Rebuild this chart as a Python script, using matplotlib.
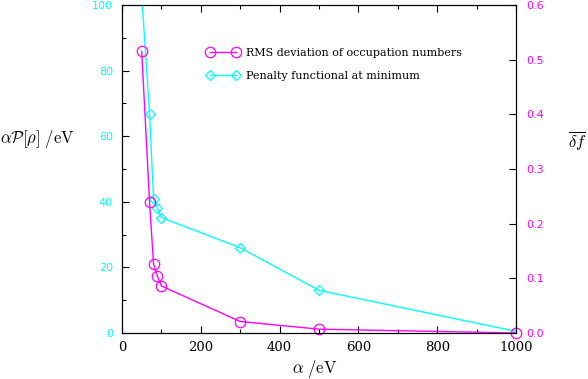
import numpy as np
import matplotlib
matplotlib.use('Agg')
import matplotlib.pyplot as plt
from matplotlib.ticker import MultipleLocator, FormatStrFormatter

# alpha values (eV)
alpha = [50, 70, 80, 90, 100, 300, 500, 1000]
# RMS deviation of occupation numbers (right axis)
rms_dev = [0.515, 0.239, 0.126, 0.104, 0.086, 0.021, 0.007, 0.0]
# penalty functional at minimum, alpha*P[rho] in eV (left axis)
penalty = [103.0, 66.7, 41.0, 38.0, 35.2, 26.0, 13.0, 0.5]

plt.rcParams['mathtext.fontset'] = 'cm'
plt.rcParams['axes.linewidth'] = 0.8

CYAN = '#00ffff'
MAGENTA = '#ff00ff'

def main():
    fig = plt.figure(figsize=(5.88, 3.79), dpi=100)
    ax = fig.add_axes([0.2075, 0.1214, 0.6701, 0.8654])
    ax2 = ax.twinx()

    l2, = ax.plot(alpha, penalty, color=CYAN, lw=1, marker='D', ms=5.5,
                  mfc='none', mec=CYAN, mew=0.9, clip_on=True,
                  label='Penalty functional at minimum')
    l1, = ax2.plot(alpha, rms_dev, color=MAGENTA, lw=1, marker='o', ms=7.5,
                   mfc='none', mec=MAGENTA, mew=0.9, clip_on=False,
                   label='RMS deviation of occupation numbers')

    ax.set_xlim(0, 1000)
    ax.set_ylim(0, 100)
    ax2.set_ylim(0, 0.6)

    ax.xaxis.set_major_locator(MultipleLocator(200))
    ax.xaxis.set_minor_locator(MultipleLocator(100))
    ax.yaxis.set_major_locator(MultipleLocator(20))
    ax.yaxis.set_minor_locator(MultipleLocator(10))
    ax2.yaxis.set_major_locator(MultipleLocator(0.1))
    ax2.yaxis.set_major_formatter(FormatStrFormatter('%.1f'))

    ax.tick_params(axis='x', which='both', direction='in', top=True,
                   labelsize=9.5, pad=6)
    ax.tick_params(which='major', length=5, width=0.8)
    ax.tick_params(which='minor', length=3, width=0.8)
    ax.tick_params(axis='y', which='both', direction='in', labelcolor=CYAN,
                   labelsize=8, pad=6.5)
    ax2.tick_params(axis='y', direction='in', length=5, width=0.8,
                    labelcolor=MAGENTA, labelsize=8, pad=7.5)

    for lab in ax.get_xticklabels():
        lab.set_family('DejaVu Serif')

    ax.set_xlabel(r'$\alpha\ /\mathrm{eV}$', fontsize=12, va='center')
    ax.xaxis.set_label_coords(0.49, -0.11)
    ax.set_ylabel(r'$\alpha\mathcal{P}[\rho]\ /\mathrm{eV}$', fontsize=12,
                  rotation=0, ha='left', va='center')
    ax.yaxis.set_label_coords(-0.31, 0.59)
    ax2.set_ylabel(r'$\overline{\delta f}$', fontsize=12, rotation=0,
                   ha='center', va='center')
    ax2.yaxis.set_label_coords(1.155, 0.588)

    ax.legend([l1, l2], [l1.get_label(), l2.get_label()],
              loc='upper left', bbox_to_anchor=(0.19, 0.90),
              frameon=False, numpoints=2, handlelength=2.9,
              handletextpad=0.6, labelspacing=1.15,
              prop={'family': 'DejaVu Serif', 'size': 8})

    plt.savefig('out.png', dpi=100)

if __name__ == '__main__':
    main()
